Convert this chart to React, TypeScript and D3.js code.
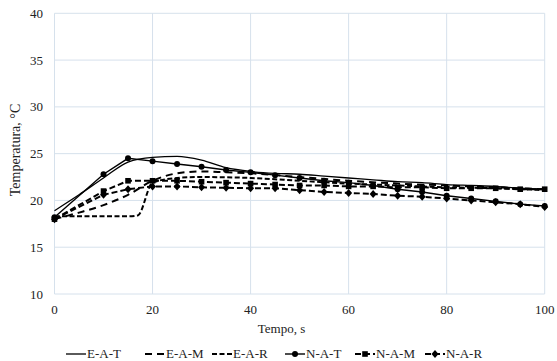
import React from "react";
import * as d3 from "d3";

const xTicks = [0, 20, 40, 60, 80, 100];
const yTicks = [10, 15, 20, 25, 30, 35, 40];

// Experimental series (smooth, no markers)
const eatX = [0, 5, 10, 15, 20, 25, 30, 35, 40, 45, 50, 55, 60, 65, 70, 75, 80, 85, 90, 95, 100];
const eatY = [18.9, 20.6, 22.4, 24.1, 24.6, 24.7, 24.3, 23.5, 23.1, 22.9, 22.8, 22.6, 22.4, 22.2, 22.0, 21.9, 21.7, 21.6, 21.5, 21.3, 21.2];

const eamX = [0, 5, 10, 15, 20, 25, 30, 35, 40, 50, 60, 70, 80, 90, 100];
const eamY = [18.0, 18.7, 19.5, 20.6, 22.1, 22.9, 23.1, 23.0, 22.9, 22.5, 22.1, 21.8, 21.6, 21.4, 21.2];

const earX = [0, 5, 10, 15, 17, 20, 25, 30, 40, 50, 60, 70, 80, 90, 100];
const earY = [18.3, 18.3, 18.3, 18.3, 18.4, 21.9, 22.4, 22.5, 22.4, 22.1, 21.8, 21.6, 21.4, 21.3, 21.1];

// Numerical series (markers)
const nX = [0, 10, 15, 20, 25, 30, 35, 40, 45, 50, 55, 60, 65, 70, 75, 80, 85, 90, 95, 100];
const natY = [18.2, 22.8, 24.5, 24.2, 23.9, 23.6, 23.25, 23.0, 22.7, 22.4, 22.1, 21.9, 21.6, 21.2, 20.9, 20.5, 20.2, 19.9, 19.6, 19.4];
const namY = [18.0, 21.0, 22.1, 22.1, 22.1, 22.0, 21.9, 21.8, 21.7, 21.6, 21.6, 21.5, 21.5, 21.4, 21.4, 21.3, 21.3, 21.3, 21.2, 21.2];
const narY = [18.0, 20.6, 21.2, 21.5, 21.5, 21.4, 21.35, 21.3, 21.3, 21.1, 20.9, 20.8, 20.7, 20.5, 20.4, 20.2, 20.0, 19.8, 19.6, 19.3];

const legendLabels = ["E-A-T", "E-A-M", "E-A-R", "N-A-T", "N-A-M", "N-A-R"];

const W = 557;
const H = 361;
const M = { left: 54.5, right: 557 - 544.7, top: 13.3, bottom: 361 - 294 };
const font = '"Liberation Serif"';

type Marker = "none" | "circle" | "square" | "diamond";
interface S {
  name: string;
  xs: number[];
  ys: number[];
  dash: string;
  width: number;
  marker: Marker;
  smooth: boolean;
}

const series: S[] = [
  { name: legendLabels[0], xs: eatX, ys: eatY, dash: "", width: 1.3, marker: "none", smooth: true },
  { name: legendLabels[1], xs: eamX, ys: eamY, dash: "7,5", width: 2, marker: "none", smooth: true },
  { name: legendLabels[2], xs: earX, ys: earY, dash: "5,2.5", width: 2, marker: "none", smooth: true },
  { name: legendLabels[3], xs: nX, ys: natY, dash: "", width: 1.4, marker: "circle", smooth: false },
  { name: legendLabels[4], xs: nX, ys: namY, dash: "6,3", width: 2, marker: "square", smooth: false },
  { name: legendLabels[5], xs: nX, ys: narY, dash: "6,3", width: 2, marker: "diamond", smooth: false },
];

function MarkerShape({ type, x, y }: { type: Marker; x: number; y: number }) {
  if (type === "circle") return <circle cx={x} cy={y} r={3} fill="#000" />;
  if (type === "square") return <rect x={x - 2.8} y={y - 2.8} width={5.6} height={5.6} fill="#000" />;
  if (type === "diamond")
    return <path d={`M${x},${y - 4}L${x + 3.5},${y}L${x},${y + 4}L${x - 3.5},${y}Z`} fill="#000" />;
  return null;
}

const txt = { fontFamily: font, fill: "#222" } as React.CSSProperties;

export default function App() {
  const x = d3.scaleLinear().domain([0, 100]).range([M.left, W - M.right]);
  const y = d3.scaleLinear().domain([10, 40]).range([H - M.bottom, M.top]);
  const legendX = [66, 145, 212, 285, 355, 425];

  return (
    <svg width={W} height={H} style={{ position: "absolute", left: 0, top: 0, background: "#fff" }}>
      <rect width={W} height={H} fill="#fff" />
      {yTicks.map((t) => (
        <line key={"gy" + t} x1={x(0)} x2={x(100)} y1={y(t)} y2={y(t)} stroke="#d6e1ec" strokeWidth={1} />
      ))}
      {xTicks.map((t) => (
        <line key={"gx" + t} x1={x(t)} x2={x(t)} y1={y(10)} y2={y(40)} stroke="#d6e1ec" strokeWidth={1} />
      ))}
      {yTicks.map((t) => (
        <text key={"ty" + t} x={43} y={y(t) + 4.5} textAnchor="end" fontSize={13} style={txt}>
          {t}
        </text>
      ))}
      {xTicks.map((t) => (
        <text key={"tx" + t} x={x(t)} y={314} textAnchor="middle" fontSize={13} style={txt}>
          {t}
        </text>
      ))}
      <text x={281.5} y={333} textAnchor="middle" fontSize={13} style={txt}>
        Tempo, s
      </text>
      <text transform={`translate(20,150) rotate(-90)`} textAnchor="middle" fontSize={14} style={txt}>
        Temperatura, °C
      </text>

      {series.map((s) => {
        const pts = s.xs.map((xv, i) => [x(xv), y(s.ys[i])] as [number, number]);
        const line = d3
          .line<[number, number]>()
          .x((d) => d[0])
          .y((d) => d[1])
          .curve(s.smooth ? d3.curveMonotoneX : d3.curveLinear);
        return (
          <g key={s.name}>
            <path
              d={line(pts) || ""}
              fill="none"
              stroke="#000"
              strokeWidth={s.width}
              strokeDasharray={s.dash || undefined}
            />
            {pts.map((p, i) => (
              <MarkerShape key={i} type={s.marker} x={p[0]} y={p[1]} />
            ))}
          </g>
        );
      })}

      {series.map((s, i) => {
        const lx = legendX[i];
        const ly = 354;
        return (
          <g key={"lg" + s.name}>
            <line
              x1={lx}
              x2={lx + 20}
              y1={ly}
              y2={ly}
              stroke="#000"
              strokeWidth={s.width}
              strokeDasharray={s.dash || undefined}
            />
            <MarkerShape type={s.marker} x={lx + 10} y={ly} />
            <text x={lx + 21} y={358} fontSize={13} style={txt}>
              {s.name}
            </text>
          </g>
        );
      })}
    </svg>
  );
}
